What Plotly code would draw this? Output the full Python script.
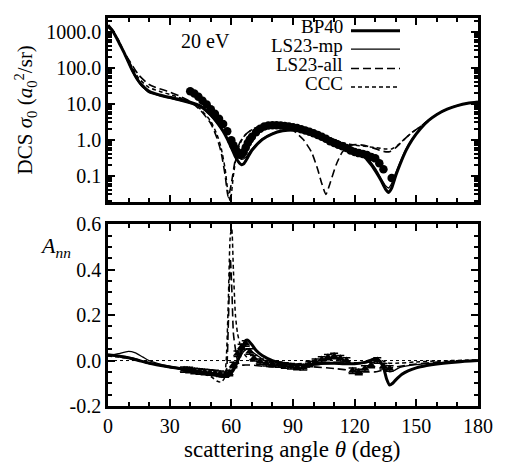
import plotly.graph_objects as go

# ---------------- DCS (top panel) ----------------
bp40_th = [0, 2, 4, 6, 8, 10, 12, 14, 16, 18, 20, 25, 30, 35, 40, 45, 50, 53, 56, 58, 60, 62, 64, 65, 66, 68, 70, 75,
           80, 85, 90, 95, 100, 105, 110, 115, 120, 125, 128, 131, 133, 135, 136.5, 138, 140, 142, 145, 148, 152, 156,
           160, 165, 170, 175, 180]
bp40_dcs = [1500, 1100, 700, 420, 250, 140, 80, 50, 35, 27, 22, 17.5, 15, 13, 11, 8.5, 4.8, 3.0, 1.7, 1.05, 0.6, 0.33,
            0.22, 0.2, 0.21, 0.32, 0.5, 1.0, 1.45, 1.75, 1.85, 1.75, 1.5, 1.2, 0.95, 0.7, 0.5, 0.32, 0.2, 0.11, 0.07,
            0.042, 0.034, 0.045, 0.1, 0.2, 0.5, 1.0, 2.0, 3.4, 5.0, 7.0, 8.8, 10.2, 11]

mp_th = [0, 2, 4, 6, 8, 10, 12, 14, 16, 18, 20, 25, 30, 35, 40, 45, 50, 53, 56, 58, 60, 63, 65, 67, 70, 75, 80, 85, 90,
         95, 100, 110, 120, 125, 130, 133, 135, 136.5, 138, 140, 145, 148, 152, 156, 160, 165, 170, 175, 180]
mp_dcs = [1450, 1080, 690, 410, 240, 135, 76, 47, 32, 25, 20, 16.5, 14, 12, 10, 8, 4.6, 2.9, 1.7, 1.1, 0.7, 0.36, 0.28,
          0.32, 0.55, 1.05, 1.5, 1.8, 1.9, 1.8, 1.55, 1.0, 0.55, 0.36, 0.16, 0.08, 0.052, 0.045, 0.06, 0.12, 0.55, 1.05,
          2.0, 3.4, 5.0, 7.0, 8.8, 10.2, 11]

all_th = [0, 2, 5, 8, 10, 15, 20, 25, 30, 35, 40, 45, 50, 53, 55, 57, 58.5, 60, 62, 64, 67, 70, 75, 80, 85, 90, 95, 99,
          102, 104, 106, 108, 111, 114, 118, 122, 126, 130, 134, 137, 140, 144, 148, 152, 156, 160, 165, 170, 175, 180]
all_dcs = [1500, 1150, 560, 260, 170, 62, 34, 26, 21, 16, 11.5, 6.5, 2.8, 1.1, 0.45, 0.1, 0.025, 0.06, 0.3, 0.8, 1.4,
           1.9, 2.4, 2.5, 2.3, 1.8, 1.0, 0.45, 0.15, 0.06, 0.03, 0.06, 0.2, 0.45, 0.7, 0.72, 0.66, 0.56, 0.47, 0.46, 0.6,
           1.0, 1.6, 2.3, 3.5, 5.0, 7.0, 8.8, 10.2, 11]

ccc_th = [0, 2, 5, 8, 10, 15, 20, 25, 30, 35, 40, 45, 50, 53, 55, 57, 58.5, 59.5, 61, 63, 66, 70, 75, 80, 85, 90, 95,
          100, 105, 110, 115, 120, 125, 130, 135, 138, 141, 144, 148, 152, 156, 160, 165, 170, 175, 180]
ccc_dcs = [1300, 1050, 600, 250, 160, 50, 28, 22, 18, 14.5, 11, 7, 3.2, 1.4, 0.6, 0.15, 0.03, 0.02, 0.1, 0.5, 1.2,
           1.9, 2.5, 2.7, 2.6, 2.4, 2.1, 1.7, 1.3, 1.0, 0.8, 0.7, 0.65, 0.6, 0.55, 0.55, 0.7, 1.0, 1.6, 2.3, 3.5, 5.0,
           7.0, 8.8, 10.2, 11]

exp_dcs_th = [40, 42, 44, 46, 48, 50, 52, 54, 56, 58, 60, 61, 62, 63, 64, 65, 66, 67, 68, 69, 70, 72, 74, 76, 78, 80,
              82, 84, 86, 88, 90, 92, 94, 96, 98, 100, 102, 104, 106, 108, 110, 112, 114, 116, 118, 120, 122, 124, 126,
              128, 130, 132, 134, 138]
exp_dcs = [22, 19, 15.5, 12, 9.5, 7, 5.2, 3.8, 2.7, 1.7, 0.95, 0.7, 0.55, 0.45, 0.38, 0.38, 0.45, 0.6, 0.8, 1.0, 1.2,
           1.6, 2.0, 2.3, 2.45, 2.5, 2.5, 2.45, 2.4, 2.3, 2.2, 2.1, 1.95, 1.8, 1.65, 1.5, 1.35, 1.2, 1.05, 0.9, 0.8,
           0.72, 0.65, 0.58, 0.5, 0.45, 0.42, 0.4, 0.37, 0.33, 0.3, 0.22, 0.15, 0.085]

# ---------------- A_nn (bottom panel) ----------------
bp40_a_th = [0, 5, 10, 15, 20, 30, 40, 50, 55, 58, 60, 62, 64, 66, 67, 68, 70, 72, 75, 80, 85, 90, 95, 100, 105, 110,
             115, 120, 125, 128, 130, 132, 134, 135.5, 137, 138.5, 140, 143, 146, 150, 155, 160, 170, 180]
bp40_a = [0.025, 0.02, 0.012, 0.0, -0.012, -0.028, -0.042, -0.058, -0.068, -0.07, -0.055, -0.025, 0.02, 0.07, 0.088,
          0.09, 0.07, 0.045, 0.022, 0.0, -0.012, -0.018, -0.02, -0.016, -0.012, -0.012, -0.014, -0.014, -0.008, 0.002,
          0.008, 0.0, -0.03, -0.08, -0.108, -0.1, -0.085, -0.06, -0.045, -0.032, -0.022, -0.015, -0.006, 0.0]

mp_a_th = [0, 5, 10, 13, 17, 20, 30, 40, 50, 55, 58, 60, 62, 64, 66, 68, 70, 73, 76, 80, 90, 100, 110, 120, 126, 129,
           131, 133, 135, 137, 139, 142, 150, 160, 170, 180]
mp_a = [0.02, 0.03, 0.04, 0.035, 0.015, 0.0, -0.025, -0.04, -0.055, -0.065, -0.06, -0.045, -0.02, 0.01, 0.04, 0.05,
        0.04, 0.02, 0.0, -0.012, -0.02, -0.018, -0.012, -0.015, -0.008, 0.005, 0.008, -0.01, -0.04, -0.05, -0.045,
        -0.03, -0.018, -0.01, -0.004, 0.0]

all_a_th = [0, 10, 20, 30, 40, 50, 54, 56, 57.5, 58.5, 59.5, 60.3, 61, 62, 63, 64, 66, 70, 75, 80, 90, 100, 110, 120,
            125, 130, 135, 140, 150, 160, 170, 180]
all_a = [0.025, 0.015, -0.01, -0.03, -0.045, -0.06, -0.07, -0.075, -0.05, 0.15, 0.45, 0.3, 0.12, 0.05, 0.0, -0.02,
         -0.02, -0.02, -0.025, -0.028, -0.03, -0.028, -0.035, -0.045, -0.05, -0.05, -0.04, -0.028, -0.015, -0.007,
         -0.002, 0.0]

ccc_a_th = [0, 10, 20, 30, 40, 50, 53, 55, 56.5, 57.5, 58.5, 59.5, 60.2, 61, 62, 63, 64, 65, 67, 70, 75, 80, 90, 100,
            110, 115, 120, 125, 130, 133, 136, 140, 150, 160, 180]
ccc_a = [0.02, 0.01, -0.012, -0.03, -0.045, -0.07, -0.09, -0.095, -0.08, 0.0, 0.25, 0.55, 0.58, 0.4, 0.2, 0.12, 0.08,
         0.05, 0.02, 0.0, -0.008, -0.012, -0.015, -0.01, -0.008, -0.006, -0.01, -0.008, -0.003, 0.0, -0.01, -0.012,
         -0.006, -0.002, 0.003]

exp_a_th = [37, 39.5, 42, 44.5, 47, 49.5, 52, 54.5, 57, 59, 61, 63, 65, 67, 69, 71, 74, 77, 80, 83, 86, 89, 92, 95, 98,
            101, 104, 107, 110, 113, 116, 119, 122, 125, 128, 131, 134, 137]
exp_a = [-0.04, -0.042, -0.046, -0.048, -0.05, -0.053, -0.055, -0.058, -0.062, -0.055, -0.02, 0.03, 0.06, 0.075,
         0.04, 0.01, -0.005, -0.012, -0.015, -0.018, -0.022, -0.025, -0.028, -0.03, -0.015, -0.005, 0.005, 0.015,
         0.02, 0.01, 0.0, -0.045, -0.05, -0.035, -0.02, 0.0, -0.025, -0.035]
exp_a_err = [0.012] * len(exp_a)

dcs_tickvals = [0.1, 1, 10, 100, 1000]
dcs_ticktext = ["0.1", "1.0", "10.0", "100.0", "1000.0"]
a_tickvals = [-0.2, 0.0, 0.2, 0.4, 0.6]
a_ticktext = ["-0.2", "0.0", "0.2", "0.4", "0.6"]
x_tickvals = [0, 30, 60, 90, 120, 150, 180]

legend_names = ["BP40", "LS23-mp", "LS23-all", "CCC"]

FONT = "Liberation Serif"
BLACK = "black"

# plot area in pixels (figure 505 x 466)
L, R, T, B = 108, 478, 7, 406
W, H = R - L, B - T


def px(xp):
    return (xp - L) / W


def py(yp):
    return (B - yp) / H


fig = go.Figure()

styles = [dict(width=3, dash="solid"), dict(width=1.3, dash="solid"),
          dict(width=1.6, dash="8px,4px"), dict(width=1.5, dash="4px,3px")]

top_series = [(bp40_th, bp40_dcs), (mp_th, mp_dcs), (all_th, all_dcs), (ccc_th, ccc_dcs)]
bot_series = [(bp40_a_th, bp40_a), (mp_a_th, mp_a), (all_a_th, all_a), (ccc_a_th, ccc_a)]

for (x, y), st, nm in zip(top_series, styles, legend_names):
    fig.add_trace(go.Scatter(x=x, y=y, mode="lines", name=nm, showlegend=False,
                             line=dict(color=BLACK, width=st["width"], dash=st["dash"], shape="spline", smoothing=0.6),
                             xaxis="x", yaxis="y"))
fig.add_trace(go.Scatter(x=exp_dcs_th, y=exp_dcs, mode="markers", showlegend=False,
                         marker=dict(symbol="circle", size=8.5, color=BLACK), xaxis="x", yaxis="y"))

for (x, y), st, nm in zip(bot_series, styles, legend_names):
    fig.add_trace(go.Scatter(x=x, y=y, mode="lines", name=nm, showlegend=False,
                             line=dict(color=BLACK, width=st["width"], dash=st["dash"], shape="spline", smoothing=0.6),
                             xaxis="x2", yaxis="y2"))
fig.add_trace(go.Scatter(x=exp_a_th, y=exp_a, mode="markers", showlegend=False,
                         error_y=dict(type="data", array=exp_a_err, color=BLACK, thickness=1.5, width=4),
                         marker=dict(symbol="triangle-up", size=8, color=BLACK), xaxis="x2", yaxis="y2"))

axis_common = dict(showline=True, linecolor=BLACK, linewidth=2.5, mirror="ticks", ticks="inside",
                   tickcolor=BLACK, tickwidth=2, ticklen=7, showgrid=False, zeroline=False,
                   tickfont=dict(family=FONT, size=20, color=BLACK))

fig.update_layout(
    width=505, height=466,
    margin=dict(l=L, r=505 - R, t=T, b=466 - B),
    paper_bgcolor="white", plot_bgcolor="white",
    font=dict(family=FONT, size=20, color=BLACK),
    xaxis=dict(axis_common, domain=[0, 1], range=[0, 180], tickvals=x_tickvals, showticklabels=False,
               anchor="y", minor=dict(ticks="inside", dtick=10, ticklen=4, tickwidth=1.5, tickcolor=BLACK)),
    yaxis=dict(axis_common, domain=[py(196), 1], type="log", range=[-1.73, 3.38], tickvals=dcs_tickvals,
               ticktext=dcs_ticktext, anchor="x",
               minor=dict(ticks="inside", dtick="D1", ticklen=4, tickwidth=1.5, tickcolor=BLACK)),
    xaxis2=dict(axis_common, domain=[0, 1], range=[0, 180], tickvals=x_tickvals, anchor="y2",
                minor=dict(ticks="inside", dtick=10, ticklen=4, tickwidth=1.5, tickcolor=BLACK)),
    yaxis2=dict(axis_common, domain=[0, py(219)], range=[-0.2, 0.6], tickvals=a_tickvals, ticktext=a_ticktext,
                anchor="x2", minor=dict(ticks="inside", dtick=0.05, ticklen=4, tickwidth=1.5, tickcolor=BLACK)),
)

# dotted zero line in the A_nn panel
fig.add_shape(type="line", xref="x2", yref="y2", x0=0, x1=180, y0=0, y1=0,
              line=dict(color=BLACK, width=1, dash="dot"), layer="below")


def ann(text, xp, yp, size, xanchor="center", angle=0):
    return dict(text=text, x=px(xp), y=py(yp), xref="paper", yref="paper", showarrow=False,
                xanchor=xanchor, yanchor="middle", textangle=angle,
                font=dict(family=FONT, size=size, color=BLACK))


annotations = [
    ann("20 eV", 205, 31, 20),
    ann("DCS <i>σ</i><sub>0</sub> (<i>a</i><sub>0</sub><sup>2</sup>/sr)", 25, 102, 21, angle=-90),
    ann("<i>A<sub>nn</sub></i>", 55, 242, 22),
    ann("scattering angle <i>θ</i> (deg)", 292, 451, 23),
]

# key (text on the left, sample line on the right)
key_text_y = [16, 35, 55, 74]
key_line_y = [20, 39, 59, 78]
for nm, ty, ly, st in zip(legend_names, key_text_y, key_line_y, styles):
    annotations.append(ann(nm, 345, ty, 19, xanchor="right"))
    fig.add_shape(type="line", xref="paper", yref="paper", x0=px(351), x1=px(400),
                  y0=py(ly), y1=py(ly),
                  line=dict(color=BLACK, width=st["width"], dash=st["dash"]))

fig.update_layout(annotations=annotations)

fig.write_html("out.html", config={"displayModeBar": False},
               post_script="document.body.style.margin='0px';")
